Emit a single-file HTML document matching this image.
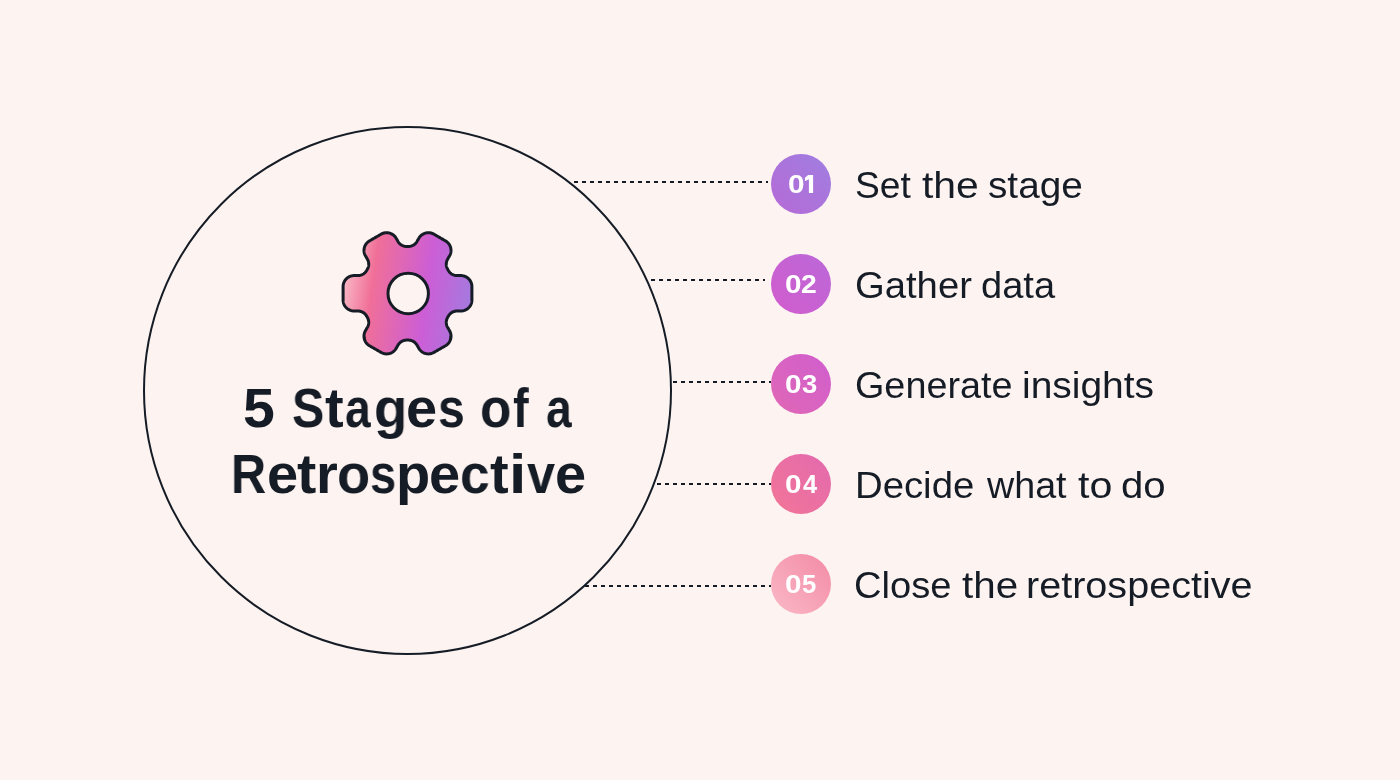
<!DOCTYPE html>
<html><head><meta charset="utf-8">
<style>
html,body{margin:0;padding:0;}
body{width:1400px;height:780px;background:#fdf4f2;position:relative;overflow:hidden;font-family:"Liberation Sans",sans-serif;color:#161c25;}
.ring{position:absolute;left:143px;top:126px;width:529px;height:529px;box-sizing:border-box;border:2px solid #161c25;border-radius:50%;}
.tw{will-change:transform;position:absolute;font-weight:bold;font-size:56px;line-height:66px;white-space:nowrap;transform-origin:0 0;}
.num b{position:absolute;top:0;font-weight:bold;font-size:25px;line-height:60px;transform-origin:0 0;will-change:transform;}
.num svg{position:absolute;left:0;top:0;}
.num{position:absolute;left:771px;width:60px;height:60px;border-radius:50%;color:#fff;}
.lw{will-change:transform;position:absolute;font-size:36px;line-height:40px;white-space:nowrap;transform-origin:0 0;}
svg.lines{position:absolute;left:0;top:0;}
</style></head>
<body>
<div class="ring"></div>
<svg class="lines" width="1400" height="780">
 <g stroke="#161c25" stroke-width="2" stroke-dasharray="4 4">
  <line x1="574" y1="182" x2="768" y2="182"/>
  <line x1="651" y1="280" x2="765" y2="280"/>
  <line x1="673" y1="382" x2="771" y2="382"/>
  <line x1="657" y1="484" x2="771" y2="484"/>
  <line x1="585" y1="586" x2="771" y2="586"/>
 </g>
</svg>
<svg style="position:absolute;left:0;top:0" width="1400" height="780">
 <defs>
  <linearGradient id="gg" gradientUnits="userSpaceOnUse" x1="343.6" y1="284.3" x2="471.4" y2="302.3">
   <stop offset="0" stop-color="#f9b6c4"/>
   <stop offset="0.22" stop-color="#f06f98"/>
   <stop offset="0.65" stop-color="#cc5ed6"/>
   <stop offset="1" stop-color="#a47ade"/>
  </linearGradient>
 </defs>
 <path fill="url(#gg)" fill-rule="evenodd" stroke="#161c25" stroke-width="3" stroke-linejoin="round" d="M448.36 316.12 448.66 315.62 448.99 315.13 449.35 314.66 449.74 314.22 450.15 313.80 450.59 313.40 451.05 313.03 451.53 312.69 452.03 312.38 452.54 312.09 453.08 311.84 453.62 311.62 454.18 311.43 454.75 311.28 455.33 311.16 455.91 311.07 456.50 311.02 457.09 311.00 457.63 311.00 458.18 311.00 458.72 311.00 459.27 311.00 459.81 311.00 460.36 311.00 460.90 311.00 461.50 310.98 462.09 310.94 462.68 310.86 463.26 310.74 463.84 310.60 464.41 310.42 464.97 310.22 465.52 309.98 466.05 309.72 466.57 309.43 467.07 309.10 467.56 308.76 468.02 308.38 468.46 307.99 468.89 307.56 469.28 307.12 469.66 306.66 470.00 306.17 470.33 305.67 470.62 305.15 470.88 304.62 471.12 304.07 471.32 303.51 471.50 302.94 471.64 302.36 471.76 301.78 471.84 301.19 471.88 300.60 471.90 300.00 471.90 299.42 471.90 298.83 471.90 298.25 471.90 297.67 471.90 297.09 471.90 296.50 471.90 295.92 471.90 295.34 471.90 294.76 471.90 294.17 471.90 293.59 471.90 293.01 471.90 292.43 471.90 291.84 471.90 291.26 471.90 290.68 471.90 290.10 471.90 289.51 471.90 288.93 471.90 288.35 471.90 287.77 471.90 287.18 471.90 286.60 471.88 286.00 471.84 285.41 471.76 284.82 471.64 284.24 471.50 283.66 471.32 283.09 471.12 282.53 470.88 281.98 470.62 281.45 470.33 280.93 470.00 280.43 469.66 279.94 469.28 279.48 468.89 279.04 468.46 278.61 468.02 278.22 467.56 277.84 467.07 277.50 466.57 277.17 466.05 276.88 465.52 276.62 464.97 276.38 464.41 276.18 463.84 276.00 463.26 275.86 462.68 275.74 462.09 275.66 461.50 275.62 460.90 275.60 460.36 275.60 459.81 275.60 459.27 275.60 458.72 275.60 458.18 275.60 457.63 275.60 457.09 275.60 456.50 275.58 455.91 275.53 455.33 275.44 454.75 275.32 454.18 275.17 453.62 274.98 453.08 274.76 452.54 274.51 452.03 274.22 451.53 273.91 451.05 273.57 450.59 273.20 450.15 272.80 449.74 272.38 449.35 271.94 448.99 271.47 448.66 270.98 448.36 270.48 448.14 270.09 447.92 269.71 447.69 269.33 447.41 268.81 447.15 268.28 446.93 267.74 446.74 267.18 446.58 266.61 446.45 266.04 446.36 265.45 446.30 264.87 446.28 264.28 446.30 263.69 446.34 263.10 446.43 262.52 446.54 261.94 446.69 261.37 446.88 260.81 447.09 260.26 447.34 259.72 447.62 259.21 447.89 258.73 448.17 258.26 448.44 257.79 448.71 257.32 448.98 256.85 449.26 256.38 449.53 255.90 449.81 255.38 450.07 254.84 450.29 254.29 450.49 253.73 450.65 253.16 450.79 252.57 450.89 251.99 450.96 251.40 451.00 250.80 451.00 250.21 450.97 249.61 450.91 249.02 450.82 248.43 450.70 247.85 450.55 247.27 450.36 246.70 450.15 246.15 449.90 245.61 449.63 245.08 449.32 244.56 448.99 244.07 448.64 243.59 448.26 243.13 447.85 242.70 447.42 242.28 446.97 241.89 446.50 241.53 446.01 241.19 445.50 240.88 445.00 240.59 444.49 240.30 443.99 240.00 443.48 239.71 442.98 239.42 442.48 239.13 441.97 238.84 441.47 238.55 440.96 238.26 440.46 237.96 439.95 237.67 439.45 237.38 438.94 237.09 438.44 236.80 437.93 236.51 437.43 236.22 436.92 235.93 436.42 235.63 435.92 235.34 435.41 235.05 434.91 234.76 434.40 234.47 433.90 234.18 433.37 233.89 432.84 233.64 432.28 233.41 431.72 233.22 431.15 233.05 430.57 232.92 429.98 232.82 429.39 232.75 428.79 232.71 428.20 232.71 427.60 232.73 427.01 232.79 426.42 232.88 425.84 233.01 425.26 233.16 424.70 233.35 424.14 233.56 423.60 233.81 423.07 234.08 422.56 234.38 422.06 234.71 421.58 235.07 421.13 235.45 420.69 235.86 420.28 236.28 419.89 236.74 419.52 237.21 419.18 237.70 418.87 238.20 418.60 238.68 418.33 239.15 418.05 239.62 417.78 240.09 417.51 240.56 417.24 241.03 416.97 241.51 416.66 242.01 416.32 242.49 415.95 242.95 415.56 243.39 415.14 243.81 414.70 244.20 414.23 244.56 413.75 244.90 413.24 245.20 412.72 245.48 412.19 245.72 411.64 245.93 411.07 246.11 410.50 246.26 409.93 246.37 409.34 246.45 408.75 246.50 408.16 246.50 407.72 246.50 407.28 246.50 406.84 246.50 406.25 246.50 405.66 246.45 405.07 246.37 404.50 246.26 403.93 246.11 403.36 245.93 402.81 245.72 402.28 245.48 401.76 245.20 401.25 244.90 400.77 244.56 400.30 244.20 399.86 243.81 399.44 243.39 399.05 242.95 398.68 242.49 398.34 242.01 398.03 241.51 397.76 241.03 397.49 240.56 397.22 240.09 396.95 239.62 396.67 239.15 396.40 238.68 396.13 238.20 395.82 237.70 395.48 237.21 395.11 236.74 394.72 236.28 394.31 235.86 393.87 235.45 393.42 235.07 392.94 234.71 392.44 234.38 391.93 234.08 391.40 233.81 390.86 233.56 390.30 233.35 389.74 233.16 389.16 233.01 388.58 232.88 387.99 232.79 387.40 232.73 386.80 232.71 386.21 232.71 385.61 232.75 385.02 232.82 384.43 232.92 383.85 233.05 383.28 233.22 382.72 233.41 382.16 233.64 381.63 233.89 381.10 234.18 380.60 234.47 380.09 234.76 379.59 235.05 379.08 235.34 378.58 235.63 378.08 235.93 377.57 236.22 377.07 236.51 376.56 236.80 376.06 237.09 375.55 237.38 375.05 237.67 374.54 237.96 374.04 238.26 373.53 238.55 373.03 238.84 372.52 239.13 372.02 239.42 371.52 239.71 371.01 240.00 370.51 240.30 370.00 240.59 369.50 240.88 368.99 241.19 368.50 241.53 368.03 241.89 367.58 242.28 367.15 242.70 366.74 243.13 366.36 243.59 366.01 244.07 365.68 244.56 365.37 245.08 365.10 245.61 364.85 246.15 364.64 246.70 364.45 247.27 364.30 247.85 364.18 248.43 364.09 249.02 364.03 249.61 364.00 250.21 364.00 250.80 364.04 251.40 364.11 251.99 364.21 252.57 364.35 253.16 364.51 253.73 364.71 254.29 364.93 254.84 365.19 255.38 365.47 255.90 365.74 256.38 366.02 256.85 366.29 257.32 366.56 257.79 366.83 258.26 367.11 258.73 367.38 259.21 367.66 259.72 367.91 260.26 368.12 260.81 368.31 261.37 368.46 261.94 368.57 262.52 368.66 263.10 368.70 263.69 368.72 264.28 368.70 264.87 368.64 265.45 368.55 266.04 368.42 266.61 368.26 267.18 368.07 267.74 367.85 268.28 367.59 268.81 367.31 269.33 367.08 269.71 366.86 270.09 366.64 270.48 366.34 270.98 366.01 271.47 365.65 271.94 365.26 272.38 364.85 272.80 364.41 273.20 363.95 273.57 363.47 273.91 362.97 274.22 362.46 274.51 361.92 274.76 361.38 274.98 360.82 275.17 360.25 275.32 359.67 275.44 359.09 275.53 358.50 275.58 357.91 275.60 357.37 275.60 356.82 275.60 356.28 275.60 355.73 275.60 355.19 275.60 354.64 275.60 354.10 275.60 353.50 275.62 352.91 275.66 352.32 275.74 351.74 275.86 351.16 276.00 350.59 276.18 350.03 276.38 349.48 276.62 348.95 276.88 348.43 277.17 347.93 277.50 347.44 277.84 346.98 278.22 346.54 278.61 346.11 279.04 345.72 279.48 345.34 279.94 345.00 280.43 344.67 280.93 344.38 281.45 344.12 281.98 343.88 282.53 343.68 283.09 343.50 283.66 343.36 284.24 343.24 284.82 343.16 285.41 343.12 286.00 343.10 286.60 343.10 287.18 343.10 287.77 343.10 288.35 343.10 288.93 343.10 289.51 343.10 290.10 343.10 290.68 343.10 291.26 343.10 291.84 343.10 292.43 343.10 293.01 343.10 293.59 343.10 294.17 343.10 294.76 343.10 295.34 343.10 295.92 343.10 296.50 343.10 297.09 343.10 297.67 343.10 298.25 343.10 298.83 343.10 299.42 343.10 300.00 343.12 300.60 343.16 301.19 343.24 301.78 343.36 302.36 343.50 302.94 343.68 303.51 343.88 304.07 344.12 304.62 344.38 305.15 344.67 305.67 345.00 306.17 345.34 306.66 345.72 307.12 346.11 307.56 346.54 307.99 346.98 308.38 347.44 308.76 347.93 309.10 348.43 309.43 348.95 309.72 349.48 309.98 350.03 310.22 350.59 310.42 351.16 310.60 351.74 310.74 352.32 310.86 352.91 310.94 353.50 310.98 354.10 311.00 354.64 311.00 355.19 311.00 355.73 311.00 356.28 311.00 356.82 311.00 357.37 311.00 357.91 311.00 358.50 311.02 359.09 311.07 359.67 311.16 360.25 311.28 360.82 311.43 361.38 311.62 361.92 311.84 362.46 312.09 362.97 312.38 363.47 312.69 363.95 313.03 364.41 313.40 364.85 313.80 365.26 314.22 365.65 314.66 366.01 315.13 366.34 315.62 366.64 316.12 366.86 316.51 367.08 316.89 367.31 317.27 367.59 317.79 367.85 318.32 368.07 318.86 368.26 319.42 368.42 319.99 368.55 320.56 368.64 321.15 368.70 321.73 368.72 322.32 368.70 322.91 368.66 323.50 368.57 324.08 368.46 324.66 368.31 325.23 368.12 325.79 367.91 326.34 367.66 326.88 367.38 327.39 367.11 327.87 366.83 328.34 366.56 328.81 366.29 329.28 366.02 329.75 365.74 330.22 365.47 330.70 365.19 331.22 364.93 331.76 364.71 332.31 364.51 332.87 364.35 333.44 364.21 334.03 364.11 334.61 364.04 335.20 364.00 335.80 364.00 336.39 364.03 336.99 364.09 337.58 364.18 338.17 364.30 338.75 364.45 339.33 364.64 339.90 364.85 340.45 365.10 340.99 365.37 341.52 365.68 342.04 366.01 342.53 366.36 343.01 366.74 343.47 367.15 343.90 367.58 344.32 368.03 344.71 368.50 345.07 368.99 345.41 369.50 345.72 370.00 346.01 370.51 346.30 371.01 346.60 371.52 346.89 372.02 347.18 372.52 347.47 373.03 347.76 373.53 348.05 374.04 348.34 374.54 348.64 375.05 348.93 375.55 349.22 376.06 349.51 376.56 349.80 377.07 350.09 377.57 350.38 378.08 350.67 378.58 350.97 379.08 351.26 379.59 351.55 380.09 351.84 380.60 352.13 381.10 352.42 381.63 352.71 382.16 352.96 382.72 353.19 383.28 353.38 383.85 353.55 384.43 353.68 385.02 353.78 385.61 353.85 386.21 353.89 386.80 353.89 387.40 353.87 387.99 353.81 388.58 353.72 389.16 353.59 389.74 353.44 390.30 353.25 390.86 353.04 391.40 352.79 391.93 352.52 392.44 352.22 392.94 351.89 393.42 351.53 393.87 351.15 394.31 350.74 394.72 350.32 395.11 349.86 395.48 349.39 395.82 348.90 396.13 348.40 396.40 347.92 396.67 347.45 396.95 346.98 397.22 346.51 397.49 346.04 397.76 345.57 398.03 345.09 398.34 344.59 398.68 344.11 399.05 343.65 399.44 343.21 399.86 342.79 400.30 342.40 400.77 342.04 401.25 341.70 401.76 341.40 402.28 341.12 402.81 340.88 403.36 340.67 403.93 340.49 404.50 340.34 405.07 340.23 405.66 340.15 406.25 340.10 406.84 340.10 407.28 340.10 407.72 340.10 408.16 340.10 408.75 340.10 409.34 340.15 409.93 340.23 410.50 340.34 411.07 340.49 411.64 340.67 412.19 340.88 412.72 341.12 413.24 341.40 413.75 341.70 414.23 342.04 414.70 342.40 415.14 342.79 415.56 343.21 415.95 343.65 416.32 344.11 416.66 344.59 416.97 345.09 417.24 345.57 417.51 346.04 417.78 346.51 418.05 346.98 418.33 347.45 418.60 347.92 418.87 348.40 419.18 348.90 419.52 349.39 419.89 349.86 420.28 350.32 420.69 350.74 421.13 351.15 421.58 351.53 422.06 351.89 422.56 352.22 423.07 352.52 423.60 352.79 424.14 353.04 424.70 353.25 425.26 353.44 425.84 353.59 426.42 353.72 427.01 353.81 427.60 353.87 428.20 353.89 428.79 353.89 429.39 353.85 429.98 353.78 430.57 353.68 431.15 353.55 431.72 353.38 432.28 353.19 432.84 352.96 433.37 352.71 433.90 352.42 434.40 352.13 434.91 351.84 435.41 351.55 435.92 351.26 436.42 350.97 436.92 350.67 437.43 350.38 437.93 350.09 438.44 349.80 438.94 349.51 439.45 349.22 439.95 348.93 440.46 348.64 440.96 348.34 441.47 348.05 441.97 347.76 442.48 347.47 442.98 347.18 443.48 346.89 443.99 346.60 444.49 346.30 445.00 346.01 445.50 345.72 446.01 345.41 446.50 345.07 446.97 344.71 447.42 344.32 447.85 343.90 448.26 343.47 448.64 343.01 448.99 342.53 449.32 342.04 449.63 341.52 449.90 340.99 450.15 340.45 450.36 339.90 450.55 339.33 450.70 338.75 450.82 338.17 450.91 337.58 450.97 336.99 451.00 336.39 451.00 335.80 450.96 335.20 450.89 334.61 450.79 334.03 450.65 333.44 450.49 332.87 450.29 332.31 450.07 331.76 449.81 331.22 449.53 330.70 449.26 330.22 448.98 329.75 448.71 329.28 448.44 328.81 448.17 328.34 447.89 327.87 447.62 327.39 447.34 326.88 447.09 326.34 446.88 325.79 446.69 325.23 446.54 324.66 446.43 324.08 446.34 323.50 446.30 322.91 446.28 322.32 446.30 321.73 446.36 321.15 446.45 320.56 446.58 319.99 446.74 319.42 446.93 318.86 447.15 318.32 447.41 317.79 447.69 317.27 447.92 316.89 448.14 316.51Z M428.40 293.40a20.20 20.20 0 1 0 -40.40 0a20.20 20.20 0 1 0 40.40 0z"/>
</svg>
<div class="tw" style="left:243.16px;top:375.3px;transform:scaleX(1.021)">5</div>
<div class="tw" style="left:292.17px;top:375.3px;transform:scaleX(0.864)">S</div>
<div class="tw" style="left:325.02px;top:375.3px;transform:scaleX(0.982)">t</div>
<div class="tw" style="left:345.34px;top:375.3px;transform:scaleX(0.828)">a</div>
<div class="tw" style="left:373.75px;top:375.3px;transform:scaleX(0.975)">g</div>
<div class="tw" style="left:406.10px;top:375.3px;transform:scaleX(1.000)">e</div>
<div class="tw" style="left:437.68px;top:375.3px;transform:scaleX(0.859)">s</div>
<div class="tw" style="left:479.67px;top:375.3px;transform:scaleX(0.917)">o</div>
<div class="tw" style="left:512.68px;top:375.3px;transform:scaleX(0.817)">f</div>
<div class="tw" style="left:545.84px;top:375.3px;transform:scaleX(0.828)">a</div>
<div class="tw" style="left:230.53px;top:441.3px;transform:scaleX(0.869)">R</div>
<div class="tw" style="left:267.02px;top:441.3px;transform:scaleX(0.989)">e</div>
<div class="tw" style="left:297.26px;top:441.3px;transform:scaleX(1.035)">t</div>
<div class="tw" style="left:316.15px;top:441.3px;transform:scaleX(0.988)">r</div>
<div class="tw" style="left:337.06px;top:441.3px;transform:scaleX(0.970)">o</div>
<div class="tw" style="left:370.32px;top:441.3px;transform:scaleX(0.841)">s</div>
<div class="tw" style="left:395.93px;top:441.3px;transform:scaleX(0.993)">p</div>
<div class="tw" style="left:429.43px;top:441.3px;transform:scaleX(0.985)">e</div>
<div class="tw" style="left:460.40px;top:441.3px;transform:scaleX(0.952)">c</div>
<div class="tw" style="left:490.42px;top:441.3px;transform:scaleX(0.982)">t</div>
<div class="tw" style="left:508.95px;top:441.3px;transform:scaleX(1.112)">i</div>
<div class="tw" style="left:526.90px;top:441.3px;transform:scaleX(0.900)">v</div>
<div class="tw" style="left:555.31px;top:441.3px;transform:scaleX(0.996)">e</div>

<div class="num" style="top:154px;background:linear-gradient(225deg,#a07ee0,#b66ad6)"><b style="left:16.8px;transform:scaleX(1.19)">0</b><svg width="60" height="60"><path fill="#fff" d="M42.1 20.9V38.9H37.9V25.2L33.9 27.2V23.8L37.2 20.9Z"/></svg></div>
<div class="num" style="top:254px;background:linear-gradient(225deg,#bb68d8,#d25ccd)"><b style="left:14.1px;transform:scaleX(1.19)">0</b><b style="left:30.3px;transform:scaleX(1.13)">2</b></div>
<div class="num" style="top:354px;background:linear-gradient(225deg,#d05ecf,#e068b4)"><b style="left:14.1px;transform:scaleX(1.19)">0</b><b style="left:31px;transform:scaleX(1.1)">3</b></div>
<div class="num" style="top:454px;background:linear-gradient(225deg,#e36aaf,#f27596)"><b style="left:14.1px;transform:scaleX(1.19)">0</b><b style="left:31.8px;transform:scaleX(1.02)">4</b></div>
<div class="num" style="top:554px;background:linear-gradient(225deg,#f38aa6,#fab9c6)"><b style="left:14.1px;transform:scaleX(1.19)">0</b><b style="left:31.1px;transform:scaleX(1.03)">5</b></div>

<div class="lw" style="left:854.8px;top:166.0px;transform:scaleX(1.033)">Set</div>
<div class="lw" style="left:921.6px;top:166.0px;transform:scaleX(1.136)">the</div>
<div class="lw" style="left:988.4px;top:166.0px;transform:scaleX(1.076)">stage</div>
<div class="lw" style="left:854.5px;top:266.0px;transform:scaleX(1.062)">Gather</div>
<div class="lw" style="left:981.1px;top:266.0px;transform:scaleX(1.057)">data</div>
<div class="lw" style="left:854.8px;top:366.0px;transform:scaleX(1.049)">Generate</div>
<div class="lw" style="left:1022.0px;top:366.0px;transform:scaleX(1.082)">insights</div>
<div class="lw" style="left:854.6px;top:466.0px;transform:scaleX(1.064)">Decide</div>
<div class="lw" style="left:986.5px;top:466.0px;transform:scaleX(1.046)">what</div>
<div class="lw" style="left:1077.5px;top:466.0px;transform:scaleX(1.143)">to</div>
<div class="lw" style="left:1120.9px;top:466.0px;transform:scaleX(1.114)">do</div>
<div class="lw" style="left:854.3px;top:566.0px;transform:scaleX(1.059)">Close</div>
<div class="lw" style="left:961.6px;top:566.0px;transform:scaleX(1.121)">the</div>
<div class="lw" style="left:1026.4px;top:566.0px;transform:scaleX(1.099)">retrospective</div>
</body></html>
